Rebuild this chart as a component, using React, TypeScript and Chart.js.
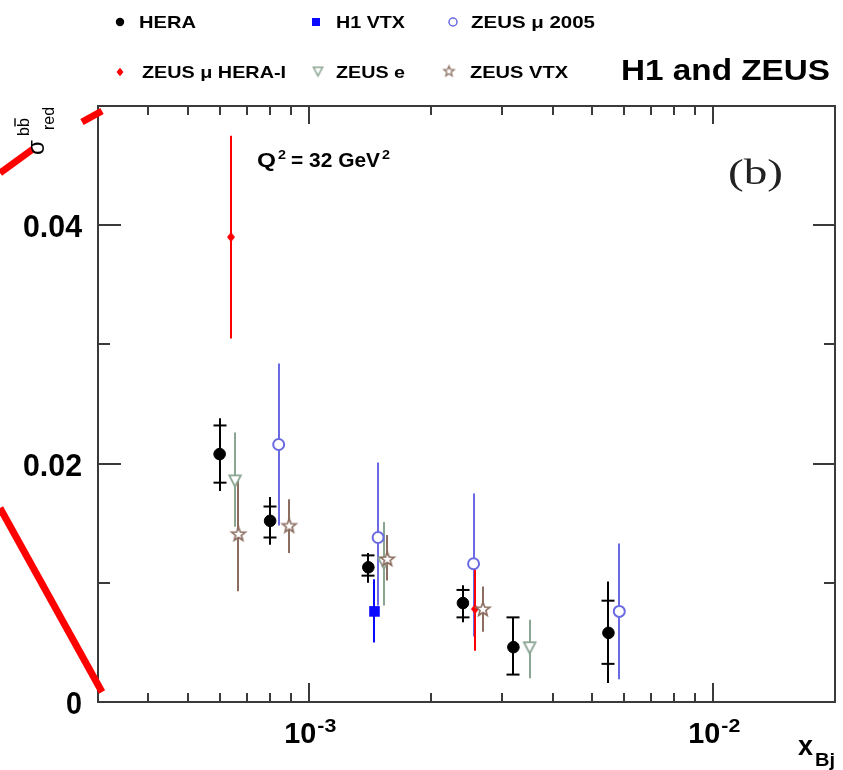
import React, { useEffect, useRef } from 'react';
import { Chart, registerables } from 'chart.js';
Chart.register(...registerables);

// ---------------- data ----------------
const HERA_X = [0.0006, 0.0008, 0.0014, 0.0024, 0.0032, 0.0055];
const HERA_Y = [0.0208, 0.0152, 0.0113, 0.0083, 0.0046, 0.0058];
const HERA_UNC_LO = [0.0184, 0.0138, 0.0106, 0.0071, 0.0023, 0.0032];
const HERA_UNC_HI = [0.0232, 0.0164, 0.0123, 0.0094, 0.0071, 0.0085];
const HERA_TOT_LO = [0.0177, 0.0132, 0.0100, 0.0067, 0.0023, 0.0016];
const HERA_TOT_HI = [0.0238, 0.0172, 0.0125, 0.0098, 0.0071, 0.0101];

const H1VTX_X = [0.00145];
const H1VTX_Y = [0.0076];
const H1VTX_LO = [0.0050];
const H1VTX_HI = [0.0103];

const ZMU05_X = [0.00084, 0.00148, 0.00255, 0.00585];
const ZMU05_Y = [0.0216, 0.0138, 0.0116, 0.0076];
const ZMU05_LO = [0.0148, 0.0081, 0.0055, 0.0019];
const ZMU05_HI = [0.0284, 0.0201, 0.0175, 0.0133];

const ZMUHI_X = [0.00064, 0.00257];
const ZMUHI_Y = [0.0390, 0.0078];
const ZMUHI_LO = [0.0305, 0.0043];
const ZMUHI_HI = [0.0475, 0.0112];

const ZE_X = [0.000655, 0.00153, 0.00351];
const ZE_Y = [0.0186, 0.0117, 0.0046];
const ZE_LO = [0.0147, 0.0081, 0.0020];
const ZE_HI = [0.0226, 0.0151, 0.0069];

const ZVTX_X = [0.000668, 0.000892, 0.00156, 0.00269];
const ZVTX_Y = [0.0141, 0.0148, 0.0120, 0.0078];
const ZVTX_LO = [0.0093, 0.0125, 0.0102, 0.0059];
const ZVTX_HI = [0.0189, 0.0170, 0.0140, 0.0097];

const X_MIN = 3e-4;
const X_MAX = 0.02;
const Y_MIN = 0;
const Y_MAX = 0.05;
const X_MAJOR = [1e-3, 1e-2];
const X_MAJOR_EXP = ['-3', '-2'];
const X_MINOR = [4e-4, 5e-4, 6e-4, 7e-4, 8e-4, 9e-4, 2e-3, 3e-3, 4e-3, 5e-3, 6e-3, 7e-3, 8e-3, 9e-3];
const Y_MAJOR = [0, 0.02, 0.04];
const Y_MAJOR_LABELS = ['0', '0.02', '0.04'];
const Y_MINOR = [0.01, 0.03];

const LEGEND_NAMES = ['HERA', 'H1 VTX', 'ZEUS \u03bc 2005', 'ZEUS \u03bc HERA-I', 'ZEUS e', 'ZEUS VTX'];

// ---------------- styles ----------------
const C_HERA = '#000000';
const C_H1VTX = '#0a0aff';
const C_ZMU05 = '#6a6ae2';
const C_ZMUHI = '#ff0000';
const C_ZE = '#8aa592';
const C_ZVTX = '#8c6e60';
const SANS = '"Liberation Sans", Arial, sans-serif';
const SERIF = '"Liberation Serif", "Times New Roman", serif';

function makeCanvas(size: number) {
  const c = document.createElement('canvas');
  c.width = size;
  c.height = size;
  return c;
}

function starMarker(color: string, scale = 1) {
  const s = Math.ceil(20 * scale);
  const c = makeCanvas(s);
  const g = c.getContext('2d')!;
  const cx = s / 2, cy = s / 2 + 0.5 * scale;
  const ro = 7.2 * scale, ri = 3.1 * scale;
  g.beginPath();
  for (let i = 0; i < 10; i++) {
    const r = i % 2 === 0 ? ro : ri;
    const a = -Math.PI / 2 + (i * Math.PI) / 5;
    const px = cx + r * Math.cos(a), py = cy + r * Math.sin(a);
    if (i === 0) g.moveTo(px, py); else g.lineTo(px, py);
  }
  g.closePath();
  g.fillStyle = '#ffffff';
  g.fill();
  g.lineWidth = 1.7 * scale;
  g.strokeStyle = color;
  g.stroke();
  return c;
}

function triDownMarker(color: string, scale = 1) {
  const s = Math.ceil(18 * scale);
  const c = makeCanvas(s);
  const g = c.getContext('2d')!;
  const cx = s / 2, cy = s / 2;
  g.beginPath();
  g.moveTo(cx - 5.8 * scale, cy - 4.8 * scale);
  g.lineTo(cx + 5.8 * scale, cy - 4.8 * scale);
  g.lineTo(cx, cy + 6.2 * scale);
  g.closePath();
  g.fillStyle = '#ffffff';
  g.fill();
  g.lineWidth = 1.8 * scale;
  g.strokeStyle = color;
  g.stroke();
  return c;
}

function diamondMarker(color: string, scale = 1) {
  const s = Math.ceil(16 * scale);
  const c = makeCanvas(s);
  const g = c.getContext('2d')!;
  const cx = s / 2, cy = s / 2;
  g.beginPath();
  g.moveTo(cx, cy - 5 * scale);
  g.lineTo(cx + 4 * scale, cy);
  g.lineTo(cx, cy + 5 * scale);
  g.lineTo(cx - 4 * scale, cy);
  g.closePath();
  g.fillStyle = color;
  g.fill();
  return c;
}

function points(xs: number[], ys: number[], lo: number[], hi: number[], clo?: number[], chi?: number[]) {
  return xs.map((x, i) => ({
    x,
    y: ys[i],
    lo: lo[i],
    hi: hi[i],
    clo: clo ? clo[i] : null,
    chi: chi ? chi[i] : null,
  }));
}

function fitText(ctx: CanvasRenderingContext2D, text: string, x: number, y: number, w: number, font: string, align: 'left' | 'right' = 'left') {
  ctx.font = font;
  ctx.textAlign = 'left';
  ctx.textBaseline = 'alphabetic';
  const m = ctx.measureText(text).width;
  const s = w / m;
  ctx.save();
  ctx.translate(align === 'right' ? x - w : x, y);
  ctx.scale(s, 1);
  ctx.fillText(text, 0, 0);
  ctx.restore();
}

const errorBarPlugin = {
  id: 'errorBars',
  beforeDatasetsDraw(chart: any) {
    const ctx: CanvasRenderingContext2D = chart.ctx;
    const xs = chart.scales.x, ys = chart.scales.y;
    chart.data.datasets.forEach((ds: any) => {
      ctx.save();
      ctx.strokeStyle = ds.errColor;
      ctx.lineWidth = ds.errWidth;
      ctx.lineCap = 'butt';
      ds.data.forEach((p: any) => {
        const px = Math.round(xs.getPixelForValue(p.x));
        const plo = ys.getPixelForValue(p.lo);
        const phi = ys.getPixelForValue(p.hi);
        ctx.beginPath();
        ctx.moveTo(px, plo);
        ctx.lineTo(px, phi);
        ctx.stroke();
        if (p.clo != null) {
          const hw = ds.capHalf;
          [p.clo, p.chi].forEach((v: number) => {
            const py = ys.getPixelForValue(v);
            ctx.beginPath();
            ctx.moveTo(px - hw, py);
            ctx.lineTo(px + hw, py);
            ctx.stroke();
          });
        }
      });
      ctx.restore();
    });
  },
};

const framePlugin = {
  id: 'frameAndText',
  afterDatasetsDraw(chart: any) {
    const ctx: CanvasRenderingContext2D = chart.ctx;
    const a = chart.chartArea;
    const xs = chart.scales.x, ys = chart.scales.y;
    ctx.save();
    ctx.strokeStyle = '#3a3a3a';
    ctx.lineWidth = 2;
    ctx.strokeRect(a.left, a.top, a.right - a.left, a.bottom - a.top);
    const tick = (x1: number, y1: number, x2: number, y2: number) => {
      ctx.beginPath();
      ctx.moveTo(x1, y1);
      ctx.lineTo(x2, y2);
      ctx.stroke();
    };
    X_MAJOR.forEach((v) => {
      const px = Math.round(xs.getPixelForValue(v));
      tick(px, a.bottom, px, a.bottom - 19);
      tick(px, a.top, px, a.top + 18);
    });
    X_MINOR.forEach((v) => {
      const px = Math.round(xs.getPixelForValue(v));
      tick(px, a.bottom, px, a.bottom - 9);
      tick(px, a.top, px, a.top + 9);
    });
    Y_MAJOR.forEach((v) => {
      const py = Math.round(ys.getPixelForValue(v));
      tick(a.left, py, a.left + 23, py);
      tick(a.right, py, a.right - 22, py);
    });
    Y_MINOR.forEach((v) => {
      const py = Math.round(ys.getPixelForValue(v));
      tick(a.left, py, a.left + 12, py);
      tick(a.right, py, a.right - 11, py);
    });
    ctx.restore();

    // red decoration lines (zoom connectors)
    ctx.save();
    ctx.strokeStyle = '#ff0000';
    ctx.lineWidth = 7;
    ctx.lineCap = 'butt';
    ctx.beginPath();
    ctx.moveTo(0, 173);
    ctx.lineTo(33, 149);
    ctx.stroke();
    ctx.beginPath();
    ctx.moveTo(82, 122);
    ctx.lineTo(102, 111);
    ctx.stroke();
    ctx.beginPath();
    ctx.moveTo(0, 508);
    ctx.lineTo(102, 692);
    ctx.stroke();
    ctx.restore();

    ctx.save();
    ctx.fillStyle = '#000';
    // y tick labels
    Y_MAJOR.forEach((v, i) => {
      const py = ys.getPixelForValue(v);
      const lab = Y_MAJOR_LABELS[i];
      const w = lab.length === 1 ? 16 : 59;
      fitText(ctx, lab, 82, py + 12, w, `bold 31px ${SANS}`, 'right');
    });
    // x tick labels
    X_MAJOR.forEach((v, i) => {
      const px = xs.getPixelForValue(v);
      fitText(ctx, '10', px - 25, 743, 32, `bold 29px ${SANS}`);
      fitText(ctx, X_MAJOR_EXP[i], px + 8, 732, 19, `bold 19px ${SANS}`);
    });
    // x axis title
    fitText(ctx, 'x', 798, 755, 15, `bold 28px ${SANS}`);
    fitText(ctx, 'Bj', 815, 766, 20, `bold 18px ${SANS}`);

    // y axis title (rotated)
    ctx.save();
    ctx.translate(44, 155);
    ctx.rotate(-Math.PI / 2);
    ctx.font = `24px ${SANS}`;
    ctx.textAlign = 'left';
    ctx.fillText('\u03c3', 0, 0);
    ctx.font = `16px ${SANS}`;
    ctx.fillText('bb', 19, -15);
    const wb = ctx.measureText('b').width;
    ctx.strokeStyle = '#000';
    ctx.lineWidth = 1.4;
    ctx.beginPath();
    ctx.moveTo(19 + wb + 0.5, -29);
    ctx.lineTo(19 + 2 * wb, -29);
    ctx.stroke();
    ctx.fillText('red', 25, 10);
    ctx.restore();

    // Q^2 label
    fitText(ctx, 'Q', 257, 167, 19, `bold 20px ${SANS}`);
    fitText(ctx, '2', 278, 159, 8, `bold 13px ${SANS}`);
    fitText(ctx, '= 32 GeV', 291, 167, 89, `bold 20px ${SANS}`);
    fitText(ctx, '2', 382, 159, 8, `bold 13px ${SANS}`);

    // (b)
    ctx.fillStyle = '#222';
    fitText(ctx, '(b)', 728, 184, 55, `35px ${SERIF}`);

    // title
    ctx.fillStyle = '#000';
    fitText(ctx, 'H1 and ZEUS', 621, 80, 209, `bold 30px ${SANS}`);

    // legend
    const lf = `bold 17px ${SANS}`;
    fitText(ctx, LEGEND_NAMES[0], 139, 28, 57, lf);
    fitText(ctx, LEGEND_NAMES[1], 336, 28, 69, lf);
    fitText(ctx, LEGEND_NAMES[2], 471, 28, 124, lf);
    fitText(ctx, LEGEND_NAMES[3], 142, 78, 144, lf);
    fitText(ctx, LEGEND_NAMES[4], 336, 78, 69, lf);
    fitText(ctx, LEGEND_NAMES[5], 470, 78, 98, lf);

    // legend markers
    ctx.fillStyle = C_HERA;
    ctx.beginPath();
    ctx.arc(120, 22, 4.2, 0, Math.PI * 2);
    ctx.fill();
    ctx.fillStyle = C_H1VTX;
    ctx.fillRect(312, 18, 8, 8);
    ctx.strokeStyle = C_ZMU05;
    ctx.lineWidth = 1.5;
    ctx.beginPath();
    ctx.arc(453, 22, 4, 0, Math.PI * 2);
    ctx.stroke();
    const dm = diamondMarker(C_ZMUHI, 0.85);
    ctx.drawImage(dm, 120 - dm.width / 2, 72 - dm.height / 2);
    const tm = triDownMarker(C_ZE, 0.8);
    ctx.drawImage(tm, 318 - tm.width / 2, 71 - tm.height / 2);
    const sm = starMarker(C_ZVTX, 0.75);
    ctx.drawImage(sm, 449 - sm.width / 2, 71 - sm.height / 2);
    ctx.restore();
  },
};

export default function App() {
  const ref = useRef<HTMLCanvasElement>(null);
  useEffect(() => {
    document.body.style.margin = '0';
    const canvas = ref.current!;
    const chart = new Chart(canvas, {
      type: 'scatter',
      data: {
        datasets: [
          {
            label: LEGEND_NAMES[5],
            data: points(ZVTX_X, ZVTX_Y, ZVTX_LO, ZVTX_HI),
            pointStyle: starMarker(C_ZVTX) as any,
            errColor: C_ZVTX,
            errWidth: 2,
          } as any,
          {
            label: LEGEND_NAMES[4],
            data: points(ZE_X, ZE_Y, ZE_LO, ZE_HI),
            pointStyle: triDownMarker(C_ZE) as any,
            errColor: C_ZE,
            errWidth: 2,
          } as any,
          {
            label: LEGEND_NAMES[2],
            data: points(ZMU05_X, ZMU05_Y, ZMU05_LO, ZMU05_HI),
            pointStyle: 'circle',
            pointRadius: 5.5,
            pointBorderWidth: 2,
            pointBorderColor: C_ZMU05,
            pointBackgroundColor: '#ffffff',
            errColor: C_ZMU05,
            errWidth: 2,
          } as any,
          {
            label: LEGEND_NAMES[1],
            data: points(H1VTX_X, H1VTX_Y, H1VTX_LO, H1VTX_HI),
            pointStyle: 'rect',
            pointRadius: 7.5,
            pointBorderWidth: 0,
            pointBackgroundColor: C_H1VTX,
            pointBorderColor: C_H1VTX,
            errColor: C_H1VTX,
            errWidth: 2,
          } as any,
          {
            label: LEGEND_NAMES[3],
            data: points(ZMUHI_X, ZMUHI_Y, ZMUHI_LO, ZMUHI_HI),
            pointStyle: diamondMarker(C_ZMUHI) as any,
            errColor: C_ZMUHI,
            errWidth: 2,
          } as any,
          {
            label: LEGEND_NAMES[0],
            data: points(HERA_X, HERA_Y, HERA_TOT_LO, HERA_TOT_HI, HERA_UNC_LO, HERA_UNC_HI),
            pointStyle: 'circle',
            pointRadius: 5.8,
            pointBorderWidth: 1,
            pointBackgroundColor: C_HERA,
            pointBorderColor: C_HERA,
            errColor: C_HERA,
            errWidth: 2,
            capHalf: 6.5,
          } as any,
        ],
      },
      options: {
        animation: false,
        responsive: false,
        devicePixelRatio: 1,
        events: [],
        layout: { padding: { left: 98, top: 106, right: 8, bottom: 68 } },
        plugins: { legend: { display: false }, tooltip: { enabled: false }, title: { display: false } },
        scales: {
          x: { type: 'logarithmic', min: X_MIN, max: X_MAX, display: false },
          y: { type: 'linear', min: Y_MIN, max: Y_MAX, display: false },
        },
      },
      plugins: [errorBarPlugin, framePlugin],
    } as any);
    return () => chart.destroy();
  }, []);
  return <canvas ref={ref} width={843} height={770} style={{ display: 'block', width: 843, height: 770 }} />;
}
